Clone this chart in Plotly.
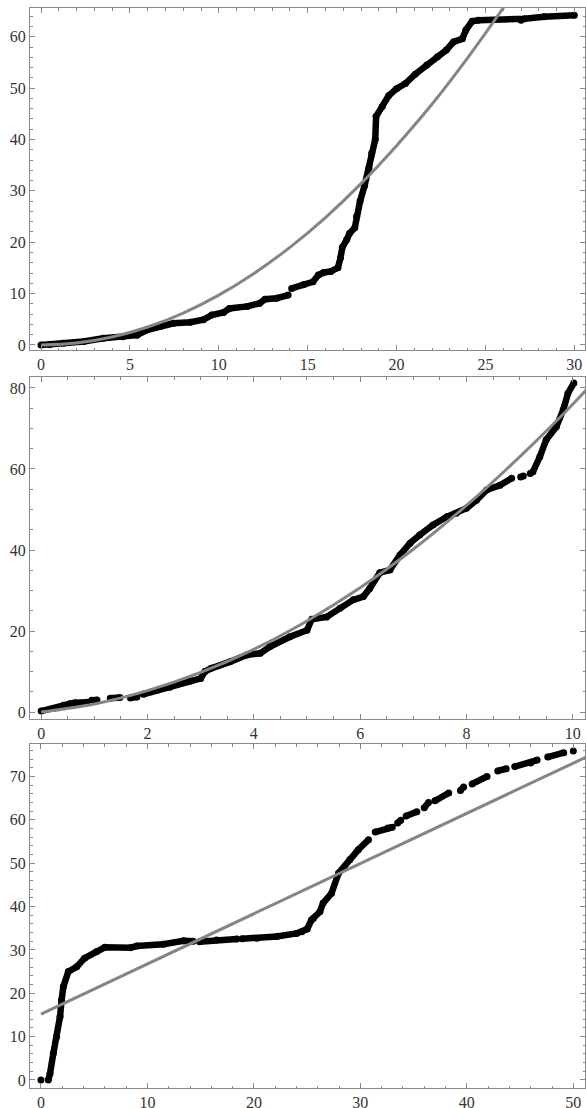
import plotly.graph_objects as go
from plotly.subplots import make_subplots

# panel 1: sampled points (None = gap in the trail) and fitted curve
p1_x = [0, 0.5, 1.26, 2.4, 3.5, 4.6, 5.4, 5.95, 6.7, 7.45, 8.4, 9.13, 9.6, 10.26, 10.6, 11.6, 12.3,
        12.6, 13.26, 13.9, None,
        14.1, 14.76, 15.3, 15.6, 15.9, 16.3, 16.7, 16.85, 16.95, 17.2, 17.35, 17.65, 17.75, 17.95,
        18.2, 18.45, 18.6, 18.8, 18.85, 19.2, 19.55, 20.0, 20.5, 21.05, 21.7, 22.3, 22.8, 23.2,
        23.7, 23.9, 24.25, 24.6, 27.0, 27.2, 28.3, 30.0]
p1_y = [0, 0.1, 0.3, 0.65, 1.3, 1.6, 1.9, 2.9, 3.6, 4.2, 4.4, 4.9, 5.8, 6.3, 7.1, 7.5, 8.1,
        8.9, 9.1, 9.7, None,
        11.0, 11.7, 12.3, 13.6, 14.1, 14.3, 15.0, 17.0, 19.0, 20.5, 21.7, 22.8, 25.0, 28.0,
        31.0, 34.5, 37.3, 40.0, 44.5, 46.4, 48.5, 49.9, 50.9, 52.7, 54.5, 56.1, 57.4, 59.0,
        59.6, 61.3, 63.0, 63.2, 63.2, 63.5, 63.9, 64.2]
fit1_x = [0, 2, 4, 6, 8, 10, 12, 14, 16, 18, 20, 22, 24, 26, 27]
fit1_y = [0, 0.39, 1.55, 3.49, 6.21, 9.7, 13.97, 19.0, 24.8, 31.4, 38.8, 46.9, 55.9, 65.6, 70.7]

# panel 2
p2_x = [0, 0.23, 0.42, 0.55, None, 0.63, 0.86, None, 0.95, 1.05, None, 1.3, 1.48, None,
        1.68, 1.8, None, 1.92, 2.17, 2.42, 2.6, 2.8, 3.0, 3.08, 3.2, 3.55, 3.87, 4.12, 4.3,
        4.68, 5.0, 5.09, 5.37, 5.62, 5.87, 6.06, 6.18, 6.37, 6.56, 6.75, 6.94, 7.12, 7.37,
        7.63, 7.81, 8.0, 8.19, 8.38, 8.63, 8.85, None, 9.02, 9.07, None, 9.2, 9.25, 9.38, 9.5,
        9.69, 9.82, 9.91, 10.02]
p2_y = [0.25, 0.9, 1.7, 2.1, None, 2.3, 2.4, None, 2.9, 3.0, None, 3.4, 3.6, None,
        3.5, 3.7, None, 4.4, 5.3, 6.1, 7.1, 7.65, 8.3, 10.0, 10.8, 12.4, 14.1, 14.5, 16.1,
        18.6, 20.2, 22.9, 23.5, 25.6, 27.7, 28.5, 30.5, 34.4, 35.1, 38.8, 41.7, 43.7, 46.2,
        48.2, 49.1, 50.3, 52.3, 54.8, 56.0, 57.7, None, 58.0, 58.3, None, 58.9, 59.3, 63.0, 67.2,
        70.4, 74.6, 78.7, 81.2]
fit2_x = [0, 1, 2, 3, 4, 5, 6, 7, 8, 9, 10, 10.5]
fit2_y = [0, 2.0, 5.3, 9.8, 15.5, 22.5, 30.7, 40.2, 51.0, 63.0, 76.0, 83.1]

# panel 3
p3_x = [0, None, 0.69, 0.85, 1.16, 1.47, 1.79, 1.94, 2.1, 2.57, 3.35, 4.1, 5.2, 6.0, 8.4, 9.0,
        11.5, 13.4, 14.3, None, 14.9, 16.5, 18.4, None, 18.9, 20.3, 22.15, 24.0, 24.5, 25.0, 25.4,
        25.6, 26.2, 26.5, 27.3, 27.95, 29.0, 29.8, 30.76, None, 31.4, 32.6, 33.0, None, 33.5,
        33.8, None, 34.3, 35.3, None, 36.0, 36.4, None, 37.0, 38.3, None, 39.4, 39.7, None,
        40.5, 41.9, None, 42.9, 43.7, None, 44.5, 46.0, 46.6, None, 47.6, 49.1, None, 50.0]
p3_y = [0, None, 0, 1.5, 6.1, 10.0, 14.6, 18.5, 21.5, 25.0, 26.1, 28.1, 29.6, 30.6, 30.5, 30.9,
        31.3, 32.1, 32.0, None, 31.9, 32.3, 32.5, None, 32.6, 32.7, 33.1, 33.8, 34.2, 34.8, 36.9,
        37.3, 38.8, 40.8, 43.1, 47.7, 50.8, 53.1, 55.4, None, 57.2, 58.1, 58.3, None, 59.3,
        59.9, None, 60.9, 61.9, None, 62.8, 64.0, None, 64.4, 66.2, None, 66.8, 67.6, None,
        68.3, 70.0, None, 71.3, 71.8, None, 72.3, 73.1, 73.8, None, 74.5, 75.5, None, 75.9]
fit3_x = [0, 52]
fit3_y = [15.2, 75.4]

panels = [
    (p1_x, p1_y, fit1_x, fit1_y, [-0.62, 30.6], [-1.0, 65.6], 5, 1, 10, 2),
    (p2_x, p2_y, fit2_x, fit2_y, [-0.21, 10.23], [-1.7, 82.7], 2, 0.5, 20, 5),
    (p3_x, p3_y, fit3_x, fit3_y, [-1.03, 51.1], [-1.85, 77.5], 10, 2, 10, 2),
]
domains = [[0.6833, 1.0], [0.3417, 0.6583], [0.0, 0.3185]]

fig = make_subplots(rows=3, cols=1)
frame = "#8a8a8a"
for i, (px_, py_, fx, fy, xr, yr, xd, xm, yd, ym) in enumerate(panels, start=1):
    fig.add_trace(go.Scatter(x=px_, y=py_, mode="lines+markers",
                             line=dict(color="black", width=6.5),
                             marker=dict(color="black", size=7),
                             connectgaps=False, showlegend=False), row=i, col=1)
    fig.add_trace(go.Scatter(x=fx, y=fy, mode="lines", line_shape="spline",
                             line=dict(color="#858585", width=3),
                             showlegend=False), row=i, col=1)
    fig.update_xaxes(range=xr, dtick=xd, tick0=0, row=i, col=1,
                     minor=dict(dtick=xm, tick0=0, ticks="inside", ticklen=2.5, tickcolor=frame))
    fig.update_yaxes(range=yr, dtick=yd, tick0=0, row=i, col=1, domain=domains[i - 1],
                     minor=dict(dtick=ym, tick0=0, ticks="inside", ticklen=2.5, tickcolor=frame))

fig.update_xaxes(showgrid=False, zeroline=False, showline=True, linecolor=frame, linewidth=1,
                 mirror="ticks", ticks="inside", ticklen=5, tickcolor=frame, automargin=False)
fig.update_yaxes(showgrid=False, zeroline=False, showline=True, linecolor=frame, linewidth=1,
                 mirror="ticks", ticks="inside", ticklen=5, tickcolor=frame, automargin=False)

fig.update_layout(
    width=586, height=1108,
    margin=dict(l=30, r=1, t=8, b=20),
    paper_bgcolor="white", plot_bgcolor="white",
    hovermode=False,
    font=dict(family="Liberation Serif", size=16, color="#333333"),
)

# the page's default body margin would shift the figure by 8px
fig.write_html("out.html", config={"displayModeBar": False, "staticPlot": True},
               post_script="document.body.style.margin = '0';")
